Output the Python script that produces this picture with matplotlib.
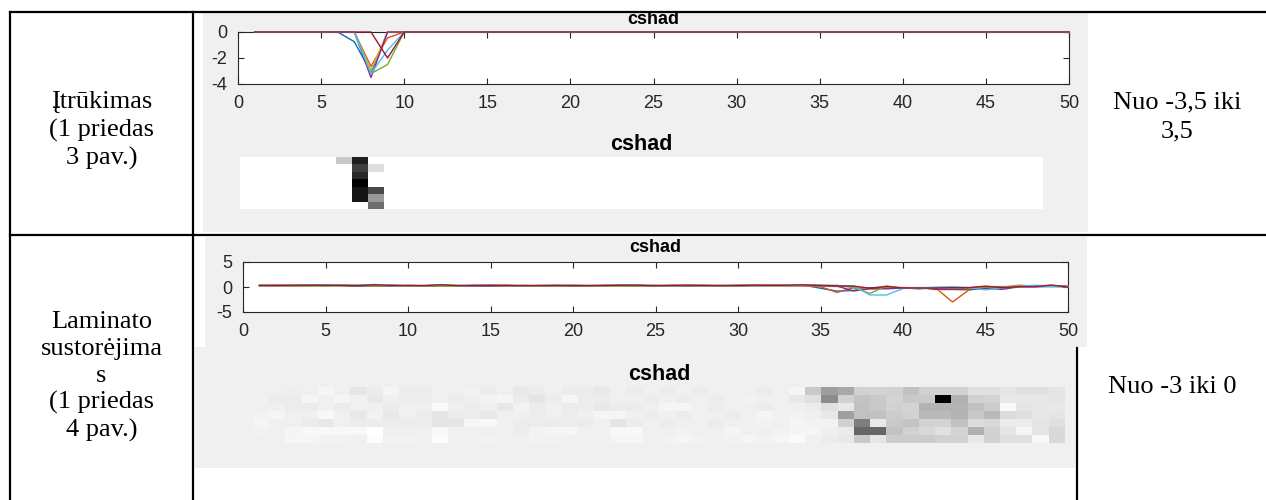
import matplotlib
matplotlib.use("Agg")
import matplotlib.pyplot as plt
import numpy as np
from matplotlib.lines import Line2D
from matplotlib.patches import Rectangle

plt.rcParams["axes.unicode_minus"] = False

# ---------------- data ----------------
x_values = list(range(1, 51))
x_ticks = [0, 5, 10, 15, 20, 25, 30, 35, 40, 45, 50]
crack_yticks = [-4, -2, 0]
lam_yticks = [-5, 0, 5]
plot_title = "cshad"

series_colors = ["#0072BD", "#D95319", "#EDB120", "#7E2F8E", "#77AC30", "#4DBEEE", "#A2142F"]

# Įtrūkimas (top row) – 7 series, x = 1..50
crack_1 = [0, 0, 0, 0, 0, 0, -0.75, -3.1, 0, 0,
           0, 0, 0, 0, 0, 0, 0, 0, 0, 0,
           0, 0, 0, 0, 0, 0, 0, 0, 0, 0,
           0, 0, 0, 0, 0, 0, 0, 0, 0, 0,
           0, 0, 0, 0, 0, 0, 0, 0, 0, 0]
crack_2 = [0, 0, 0, 0, 0, 0, 0, -2.65, -0.45, 0,
           0, 0, 0, 0, 0, 0, 0, 0, 0, 0,
           0, 0, 0, 0, 0, 0, 0, 0, 0, 0,
           0, 0, 0, 0, 0, 0, 0, 0, 0, 0,
           0, 0, 0, 0, 0, 0, 0, 0, 0, 0]
crack_3 = [0, 0, 0, 0, 0, 0, 0, -2.95, 0, 0,
           0, 0, 0, 0, 0, 0, 0, 0, 0, 0,
           0, 0, 0, 0, 0, 0, 0, 0, 0, 0,
           0, 0, 0, 0, 0, 0, 0, 0, 0, 0,
           0, 0, 0, 0, 0, 0, 0, 0, 0, 0]
crack_4 = [0, 0, 0, 0, 0, 0, 0, -3.5, 0, 0,
           0, 0, 0, 0, 0, 0, 0, 0, 0, 0,
           0, 0, 0, 0, 0, 0, 0, 0, 0, 0,
           0, 0, 0, 0, 0, 0, 0, 0, 0, 0,
           0, 0, 0, 0, 0, 0, 0, 0, 0, 0]
crack_5 = [0, 0, 0, 0, 0, 0, 0, -3.2, -2.5, 0,
           0, 0, 0, 0, 0, 0, 0, 0, 0, 0,
           0, 0, 0, 0, 0, 0, 0, 0, 0, 0,
           0, 0, 0, 0, 0, 0, 0, 0, 0, 0,
           0, 0, 0, 0, 0, 0, 0, 0, 0, 0]
crack_6 = [0, 0, 0, 0, 0, 0, 0, -3.2, -1.4, 0,
           0, 0, 0, 0, 0, 0, 0, 0, 0, 0,
           0, 0, 0, 0, 0, 0, 0, 0, 0, 0,
           0, 0, 0, 0, 0, 0, 0, 0, 0, 0,
           0, 0, 0, 0, 0, 0, 0, 0, 0, 0]
crack_7 = [0, 0, 0, 0, 0, 0, 0, 0, -2.0, 0,
           0, 0, 0, 0, 0, 0, 0, 0, 0, 0,
           0, 0, 0, 0, 0, 0, 0, 0, 0, 0,
           0, 0, 0, 0, 0, 0, 0, 0, 0, 0,
           0, 0, 0, 0, 0, 0, 0, 0, 0, 0]

# Laminato sustorėjimas (bottom row) – 7 series, x = 1..50
lam_1 = [0.29, 0.29, 0.26, 0.29, 0.36, 0.29, 0.15, 0.23, 0.36, 0.23,
         0.23, 0.29, 0.29, 0.32, 0.23, 0.29, 0.18, 0.23, 0.29, 0.23,
         0.23, 0.18, 0.29, 0.23, 0.29, 0.23, 0.29, 0.23, 0.29, 0.29,
         0.29, 0.23, 0.29, 0.36, -0.25, -0.83, -0.69, -0.14, -0.09, -0.14,
         -0.36, -0.14, -0.14, -0.14, 0.07, 0.07, 0.14, 0.07, 0.07, 0.14]
lam_2 = [0.29, 0.23, 0.23, 0.36, 0.29, 0.36, 0.29, 0.18, 0.29, 0.23,
         0.23, 0.29, 0.23, 0.29, 0.32, 0.36, 0.23, 0.14, 0.23, 0.36,
         0.23, 0.23, 0.29, 0.29, 0.23, 0.29, 0.23, 0.29, 0.23, 0.29,
         0.32, 0.29, 0.29, 0.18, 0.07, -1.08, -0.14, -0.31, -0.25, -0.09,
         -0.25, -0.25, -3.0, -0.58, -0.14, -0.09, 0.18, 0.18, 0.18, 0.14]
lam_3 = [0.29, 0.29, 0.23, 0.23, 0.29, 0.23, 0.29, 0.29, 0.23, 0.29,
         0.29, 0.43, 0.29, 0.23, 0.29, 0.18, 0.32, 0.23, 0.29, 0.23,
         0.23, 0.18, 0.23, 0.23, 0.29, 0.36, 0.36, 0.29, 0.23, 0.29,
         0.29, 0.23, 0.29, 0.29, 0.23, 0.07, 0.18, -0.36, -0.25, -0.14,
         -0.09, -0.53, -0.53, -0.53, -0.36, -0.20, 0.43, 0.14, 0.18, 0.18]
lam_4 = [0.32, 0.36, 0.29, 0.29, 0.40, 0.29, 0.18, 0.32, 0.18, 0.29,
         0.23, 0.14, 0.23, 0.23, 0.18, 0.29, 0.29, 0.23, 0.29, 0.23,
         0.29, 0.36, 0.36, 0.29, 0.23, 0.29, 0.23, 0.29, 0.29, 0.23,
         0.29, 0.36, 0.29, 0.32, 0.29, 0.18, -0.80, -0.36, -0.36, -0.20,
         -0.14, -0.47, -0.47, -0.53, -0.25, -0.47, 0.02, 0.07, 0.18, 0.14]
lam_5 = [0.36, 0.29, 0.29, 0.23, 0.18, 0.29, 0.23, 0.23, 0.23, 0.23,
         0.23, 0.14, 0.14, 0.36, 0.40, 0.29, 0.23, 0.23, 0.23, 0.23,
         0.23, 0.29, 0.14, 0.23, 0.29, 0.23, 0.29, 0.29, 0.23, 0.29,
         0.29, 0.32, 0.29, 0.36, 0.32, 0.32, -0.14, -1.27, 0.18, -0.25,
         -0.31, -0.09, -0.09, -0.36, 0.02, -0.04, 0.23, 0.23, 0.14, 0.07]
lam_6 = [0.32, 0.29, 0.36, 0.40, 0.40, 0.40, 0.40, 0.50, 0.29, 0.29,
         0.29, 0.40, 0.29, 0.29, 0.29, 0.29, 0.23, 0.32, 0.36, 0.36,
         0.29, 0.29, 0.40, 0.40, 0.29, 0.29, 0.32, 0.29, 0.29, 0.36,
         0.29, 0.29, 0.32, 0.36, 0.36, 0.29, 0.21, -1.60, -1.60, -0.31,
         -0.14, -0.04, 0.07, -0.09, -0.58, -0.14, 0.14, 0.36, 0.14, -0.04]
lam_7 = [0.29, 0.29, 0.36, 0.36, 0.32, 0.32, 0.29, 0.45, 0.32, 0.32,
         0.29, 0.45, 0.29, 0.29, 0.32, 0.29, 0.29, 0.32, 0.32, 0.29,
         0.29, 0.29, 0.36, 0.36, 0.29, 0.32, 0.36, 0.32, 0.29, 0.32,
         0.36, 0.32, 0.36, 0.43, 0.29, 0.23, 0.18, -0.25, 0.14, -0.20,
         -0.20, -0.20, -0.14, -0.14, 0.18, -0.14, 0.07, 0.07, 0.40, -0.04]

row1_label = ["Įtrūkimas", "(1 priedas", "3 pav.)"]
row2_label = ["Laminato", "sustorėjima", "s", "(1 priedas", "4 pav.)"]
row1_range = ["Nuo -3,5 iki", "3,5"]
row2_range = ["Nuo -3 iki 0"]

crack_series = [crack_1, crack_2, crack_3, crack_4, crack_5, crack_6, crack_7]
lam_series = [lam_1, lam_2, lam_3, lam_4, lam_5, lam_6, lam_7]

# ---------------- layout helpers ----------------
W, H = 1266, 500
fig = plt.figure(figsize=(W / 100, H / 100), dpi=100)
fig.patch.set_facecolor("white")

def rect(x0, y0, x1, y1):
    return [x0 / W, 1 - y1 / H, (x1 - x0) / W, (y1 - y0) / H]

def fx(x):
    return x / W

def fy(y):
    return 1 - y / H

MAT_FONT = "Liberation Sans"
SERIF = "Liberation Serif"
AX_COLOR = "#262626"
PANEL = "#f0f0f0"

# grey figure panels
for (x0, y0, x1, y1) in [(203, 13, 1088, 232), (205, 237, 1087, 347), (195, 347, 1075, 468)]:
    fig.add_artist(Rectangle((fx(x0), fy(y1)), (x1 - x0) / W, (y1 - y0) / H,
                             transform=fig.transFigure, facecolor=PANEL,
                             edgecolor="none", zorder=-5))

def line_axes(box, series, ylim, yticks, title_off):
    ax = fig.add_axes(rect(*box))
    ax.set_facecolor("white")
    for s, c in zip(series, series_colors):
        ax.plot(x_values, s, color=c, lw=1.0, clip_on=False, zorder=3)
    ax.set_xlim(0, 50)
    ax.set_ylim(*ylim)
    ax.set_xticks(x_ticks)
    ax.set_yticks(yticks)
    ax.tick_params(direction="in", top=True, right=True, length=4, width=0.8,
                   color=AX_COLOR, labelcolor=AX_COLOR, labelsize=13)
    ax.tick_params(axis="x", pad=8)
    ax.tick_params(axis="y", pad=8)
    for lab in ax.get_xticklabels() + ax.get_yticklabels():
        lab.set_fontfamily(MAT_FONT)
    for sp in ax.spines.values():
        sp.set_color(AX_COLOR)
        sp.set_linewidth(0.8)
    ax.text(0.5, title_off, plot_title, transform=ax.transAxes, ha="center",
            va="center", fontsize=13, fontweight="bold", family=MAT_FONT,
            color="black")
    return ax

def heat_axes(box, series, title_off):
    ax = fig.add_axes(rect(*box))
    ax.imshow(np.array(series), cmap="gray", aspect="auto", interpolation="nearest")
    ax.set_axis_off()
    ax.text(0.5, title_off, plot_title, transform=ax.transAxes, ha="center",
            va="center", fontsize=15.5, fontweight="bold", family=MAT_FONT,
            color="black")
    return ax

line_axes((238, 32, 1069, 84), crack_series, (-4, 0), crack_yticks, 1.25)
heat_axes((240, 157, 1043, 209), crack_series, 1.25)
line_axes((243, 262, 1068, 312), lam_series, (-5, 5), lam_yticks, 1.28)
heat_axes((253, 387, 1065, 443), lam_series, 1.23)

# table lines
LW = 1.6
for (x0, y0, x1, y1) in [(10, 12, 1266, 12), (10, 235, 1266, 235),
                         (10, 12, 10, 500), (193, 12, 193, 500),
                         (1077, 348, 1077, 500)]:
    fig.add_artist(Line2D([fx(x0), fx(x1)], [fy(y0), fy(y1)], color="black",
                          lw=LW, transform=fig.transFigure, zorder=10))

# table text
TS = 19
for lab, yb in zip(row1_label, [108, 137, 165]):
    fig.text(fx(101.5), fy(yb), lab, ha="center", va="baseline", fontsize=TS,
             family=SERIF, color="black")
for lab, yb in zip(row2_label, [328, 355, 382, 409, 437]):
    fig.text(fx(101.5), fy(yb), lab, ha="center", va="baseline", fontsize=TS,
             family=SERIF, color="black")
for lab, yb in zip(row1_range, [108, 137]):
    fig.text(fx(1177), fy(yb), lab, ha="center", va="baseline", fontsize=TS,
             family=SERIF, color="black")
for lab, yb in zip(row2_range, [393]):
    fig.text(fx(1172), fy(yb), lab, ha="center", va="baseline", fontsize=TS,
             family=SERIF, color="black")

fig.savefig("out.png", dpi=100, facecolor="white")
